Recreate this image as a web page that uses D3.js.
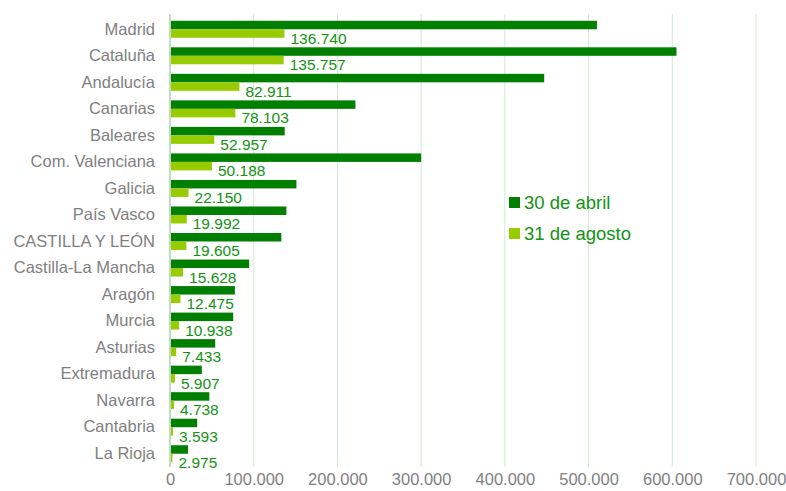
<!DOCTYPE html>
<html>
<head>
<meta charset="utf-8">
<script src="https://cdn.jsdelivr.net/npm/d3@7"></script>
<style>
  body { margin: 0; background: #fff; }
  text { font-family: "Liberation Sans", Arial, sans-serif; }
</style>
</head>
<body>
<svg id="mainsvg" width="786" height="491"></svg>
<script>
// data
const regions = ['Madrid', 'Cataluña', 'Andalucía', 'Canarias', 'Baleares', 'Com. Valenciana',
  'Galicia', 'País Vasco', 'CASTILLA Y LEÓN', 'Castilla-La Mancha', 'Aragón', 'Murcia',
  'Asturias', 'Extremadura', 'Navarra', 'Cantabria', 'La Rioja'];
const abril = [510000, 605000, 447000, 221500, 137000, 300000, 151000, 139000, 133000,
  94500, 77500, 75500, 54000, 38000, 47000, 32500, 21500];
const agosto = [136740, 135757, 82911, 78103, 52957, 50188, 22150, 19992, 19605,
  15628, 12475, 10938, 7433, 5907, 4738, 3593, 2975];
const seriesNames = ['30 de abril', '31 de agosto'];
const seriesColors = ['#007f00', '#99cc00'];
const xTicks = [0, 100000, 200000, 300000, 400000, 500000, 600000, 700000];

const svg = d3.select('#mainsvg');
const margin = { top: 16, left: 170, right: 30, bottom: 24 };
const plotRight = 756;
const plotBottom = 467;

const fmt = v => d3.format(',')(v).replace(/,/g, '.');

const xScale = d3.scaleLinear().domain([0, 700000]).range([margin.left, plotRight]);
const yScale = d3.scaleBand().domain(regions).range([margin.top, plotBottom])
  .paddingInner(0.36).paddingOuter(0.18);
const sub = d3.scaleBand().domain([0, 1]).range([0, yScale.bandwidth()]);

// gridlines
svg.append('g').selectAll('line').data(xTicks.slice(1)).join('line')
  .attr('x1', d => xScale(d)).attr('x2', d => xScale(d))
  .attr('y1', margin.top - 2).attr('y2', plotBottom)
  .attr('stroke', '#d3e8d3').attr('stroke-width', 1);

// x tick labels
const xAxis = d3.axisBottom(xScale).tickValues(xTicks).tickSize(0).tickPadding(0)
  .tickFormat(fmt);
const xg = svg.append('g').attr('transform', `translate(0, ${plotBottom + 6})`).call(xAxis);
xg.select('.domain').remove();
xg.selectAll('text').attr('fill', '#808080').attr('font-size', 16.5)
  .attr('dy', '0.71em').style('font-family', '"Liberation Sans", Arial, sans-serif');

// bars
const rows = svg.append('g').selectAll('g').data(regions).join('g')
  .attr('transform', d => `translate(0, ${yScale(d)})`);

rows.append('rect')
  .attr('x', xScale(0)).attr('y', sub(0))
  .attr('width', (d, i) => xScale(abril[i]) - xScale(0))
  .attr('height', sub.bandwidth())
  .attr('fill', seriesColors[0]);

rows.append('rect')
  .attr('x', xScale(0)).attr('y', sub(1))
  .attr('width', (d, i) => xScale(agosto[i]) - xScale(0))
  .attr('height', sub.bandwidth())
  .attr('fill', seriesColors[1]);

// labels for the agosto series
rows.append('text')
  .attr('x', (d, i) => xScale(agosto[i]) + 6)
  .attr('y', sub(1) + sub.bandwidth() + 6)
  .attr('fill', '#139313').attr('font-size', 15.5)
  .text((d, i) => fmt(agosto[i]));

// y axis line
svg.append('line')
  .attr('x1', xScale(0)).attr('x2', xScale(0))
  .attr('y1', margin.top - 2).attr('y2', plotBottom)
  .attr('stroke', '#c2dcc2').attr('stroke-width', 2);

// category labels
const yAxis = d3.axisLeft(yScale).tickSize(0).tickPadding(15);
const yg = svg.append('g').attr('transform', `translate(${xScale(0)}, 0)`).call(yAxis);
yg.select('.domain').remove();
yg.selectAll('text').attr('fill', '#808080').attr('font-size', 16.5)
  .style('font-family', '"Liberation Sans", Arial, sans-serif');

// legend
const legend = svg.append('g').attr('transform', 'translate(509, 197)')
  .selectAll('g').data(seriesNames).join('g')
  .attr('transform', (d, i) => `translate(0, ${i * 31})`);
legend.append('rect').attr('width', 11).attr('height', 11)
  .attr('fill', (d, i) => seriesColors[i]);
legend.append('text').attr('x', 15).attr('y', 12)
  .attr('fill', '#139313').attr('font-size', 18.5).text(d => d);
</script>
</body>
</html>
